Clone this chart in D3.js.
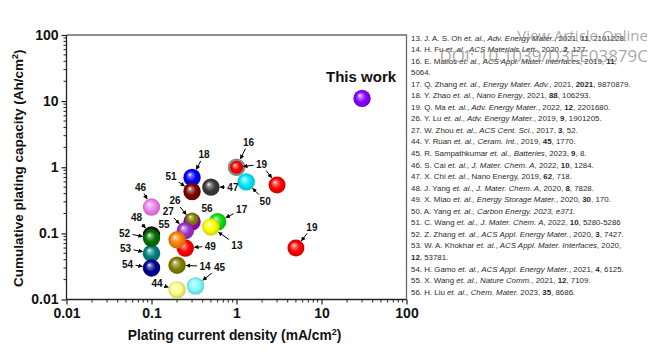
<!DOCTYPE html>
<html><head><meta charset="utf-8">
<script src="https://cdn.jsdelivr.net/npm/d3@7"></script>
<style>html,body{margin:0;padding:0;background:#fff;}svg{display:block;}</style>
</head><body>
<svg id="c" width="662" height="351"></svg>
<script>
// ---------- data ----------
const refLabels = ["16","19","50","19","18","51","47","46","26","56","17","13","27","49","55","48","53","52","54","14","44","45","19","This work"];
const currentDensity = [1, 1, 1.3, 3, 0.3, 0.3, 0.5, 0.1, 0.3, 0.3, 0.6, 0.5, 0.25, 0.25, 0.2, 0.1, 0.1, 0.1, 0.1, 0.2, 0.2, 0.33, 5, 30];
const capacity =       [1, 1, 0.6, 0.54, 0.7, 0.43, 0.5, 0.25, 0.15, 0.165, 0.15, 0.125, 0.11, 0.06, 0.08, 0.095, 0.05, 0.085, 0.03, 0.033, 0.014, 0.016, 0.06, 11];
const xTicks = [0.01, 0.1, 1, 10, 100];
const yTicks = [0.01, 0.1, 1, 10, 100];
const xTickLabels = ["0.01", "0.1", "1", "10", "100"];
const yTickLabels = ["0.01", "0.1", "1", "10", "100"];
const references = [
  [["13. J. A. S. Oh ",""],["et. al., Adv. Energy Mater.","i"],[", 2021, ",""],["11","b"],[", 2101228.",""]],
  [["14. H. Fu ",""],["et. al., ACS Materials Lett.","i"],[", 2020, ",""],["2","b"],[", 127.",""]],
  [["16. E. Matios ",""],["et. al., ACS Appl. Mater. Interfaces","i"],[", 2019, ",""],["11","b"],[",",""]],
  [["5064.",""]],
  [["17. Q. Zhang ",""],["et. al., Energy Mater. Adv.","i"],[", 2021, ",""],["2021","b"],[", 9870879.",""]],
  [["18. Y. Zhao ",""],["et. al., Nano Energy","i"],[", 2021, ",""],["88","b"],[", 106293.",""]],
  [["19. Q. Ma ",""],["et. al., Adv. Energy Mater.","i"],[", 2022, ",""],["12","b"],[", 2201680.",""]],
  [["26. Y. Lu ",""],["et. al., Adv. Energy Mater.","i"],[", 2019, ",""],["9","b"],[", 1901205.",""]],
  [["27. W. Zhou ",""],["et. al., ACS Cent. Sci.","i"],[", 2017, ",""],["3","b"],[", 52.",""]],
  [["44. Y. Ruan ",""],["et. al., Ceram. Int.","i"],[", 2019, ",""],["45","b"],[", 1770.",""]],
  [["45. R. Sampathkumar ",""],["et. al., Batteries","i"],[", 2023, ",""],["9","b"],[", 8.",""]],
  [["46. S. Cai ",""],["et. al., J. Mater. Chem. A","i"],[", 2022, ",""],["10","b"],[", 1284.",""]],
  [["47. X. Chi ",""],["et. al.","i"],[", Nano Energy, 2019, ",""],["62","b"],[", 718.",""]],
  [["48. J. Yang ",""],["et. al., J. Mater. Chem. A","i"],[", 2020, ",""],["8","b"],[", 7828.",""]],
  [["49. X. Miao ",""],["et. al., Energy Storage Mater.","i"],[", 2020, ",""],["30","b"],[", 170.",""]],
  [["50. A. Yang ",""],["et. al., Carbon Energy. 2023, e371.","i"]],
  [["51. C. Wang ",""],["et. al., J. Mater. Chem. A","i"],[", 2022, ",""],["10","b"],[", 5280-5286",""]],
  [["52. Z. Zhang ",""],["et. al., ACS Appl. Energy Mater.","i"],[", 2020, ",""],["3","b"],[", 7427.",""]],
  [["53. W. A. Khokhar ",""],["et. al., ACS Appl. Mater. Interfaces","i"],[", 2020,",""]],
  [["12","b"],[", 53781.",""]],
  [["54. H. Gamo ",""],["et. al., ACS Appl. Energy Mater.","i"],[", 2021, ",""],["4","b"],[", 6125.",""]],
  [["55. X. Wang ",""],["et. al., Nature Comm.","i"],[", 2021, ",""],["12","b"],[", 7109.",""]],
  [["56. H. Liu ",""],["et. al., Chem. Mater.","i"],[" 2023, ",""],["35","b"],[", 8686.",""]]
];

// ---------- styles / layout ----------
const pointStyle = [
  {c:"#8a7f78", r:8.7},{c:"#ff0000", r:6.5},{c:"#00e8f8", r:8.7},{c:"#ff0000", r:8.5},
  {c:"#0000ff", r:8.7},{c:"#800000", r:8.7},{c:"#3a3a3a", r:8.7},{c:"#f080f0", r:8.7},
  {c:"#a000a8", r:8.7},{c:"#808000", r:6.5},{c:"#10e010", r:8.7},{c:"#ffff00", r:8.7},
  {c:"#9a30c8", r:8.7},{c:"#ff0000", r:8.7},{c:"#ff8000", r:8.7},{c:"#0a1a0a", r:8.7},
  {c:"#008080", r:8.7},{c:"#007000", r:8.7},{c:"#000090", r:8.7},{c:"#808000", r:8.7},
  {c:"#ffff80", r:8.7},{c:"#80ffff", r:8.7},{c:"#ff0000", r:8.5},{c:"#8800ff", r:8.7}
];
// label offsets (px) relative to anchor point and arrow targets (point indices)
const annotations = [
  {p:0, dx:12, dy:-25, t:[0]},
  {p:1, dx:25, dy:-3, t:[1,3]},
  {p:2, dx:19, dy:19, t:[2]},
  {p:4, dx:12, dy:-23, t:[4]},
  {p:5, dx:-21, dy:-15, t:[5]},
  {p:6, dx:22, dy:0, t:[6]},
  {p:7, dx:-11, dy:-20, t:[7]},
  {p:8, dx:-17, dy:-21, t:[8]},
  {p:9, dx:15, dy:-11, t:[9]},
  {p:10, dx:24, dy:-12, t:[10]},
  {p:11, dx:26, dy:18, t:[11]},
  {p:12, dx:-17, dy:-19, t:[12]},
  {p:13, dx:25, dy:-2, t:[13]},
  {p:14, dx:-13, dy:-15, t:[14]},
  {p:15, dx:-15, dy:-17, t:[15]},
  {p:16, dx:-26, dy:-5, t:[16]},
  {p:17, dx:-27, dy:-5, t:[17]},
  {p:18, dx:-24, dy:-4, t:[18]},
  {p:19, dx:28, dy:1, t:[19]},
  {p:20, dx:-20, dy:-6, t:[20]},
  {p:21, dx:24, dy:-19, t:[21]},
  {p:22, dx:16, dy:-21, t:[22]}
];

const pL = 66.5, pR = 406.5, pT = 35, pB = 299.5;
const svg = d3.select("#c");
const x = d3.scaleLog().domain([0.01, 100]).range([pL, pR]);
const y = d3.scaleLog().domain([0.01, 100]).range([pB, pT]);
const axisFont = "Arial, 'Liberation Sans', sans-serif";

// minor ticks
const minor = [];
for (let e = -2; e < 2; e++) for (let k = 2; k <= 9; k++) minor.push(k * Math.pow(10, e));

// gradients
const defs = svg.append("defs");
pointStyle.forEach((s, i) => {
  const base = d3.color(s.c);
  const g = defs.append("radialGradient").attr("id", "g" + i)
    .attr("cx", "50%").attr("cy", "50%").attr("r", "50%").attr("fx", "36%").attr("fy", "32%");
  g.append("stop").attr("offset", "0%").attr("stop-color", "#ffffff");
  g.append("stop").attr("offset", "22%").attr("stop-color", d3.interpolateRgb("#ffffff", s.c)(0.55));
  g.append("stop").attr("offset", "60%").attr("stop-color", s.c);
  g.append("stop").attr("offset", "100%").attr("stop-color", base.darker(0.6).formatHex());
});
defs.append("marker").attr("id", "ah").attr("viewBox", "0 0 10 10").attr("refX", 9).attr("refY", 5)
  .attr("markerWidth", 4.5).attr("markerHeight", 4.5).attr("markerUnits", "userSpaceOnUse").attr("orient", "auto")
  .append("path").attr("d", "M0,0 L10,5 L0,10 z").attr("fill", "#000");

// frame (top/right)
svg.append("path").attr("d", `M${pL},${pT}H${pR}V${pB}`).attr("fill", "none")
  .attr("stroke", "#6a6a6a").attr("stroke-width", 1.3);

// x axis
const gx = svg.append("g").attr("transform", `translate(0,${pB})`);
gx.call(d3.axisBottom(x).tickValues(xTicks).tickFormat((d, i) => xTickLabels[i]).tickSize(5).tickPadding(4));
gx.selectAll(".minor").data(minor).enter().append("line").attr("class", "minor")
  .attr("x1", d => x(d)).attr("x2", d => x(d)).attr("y1", 0).attr("y2", 3).attr("stroke", "#222");
gx.select(".domain").attr("stroke", "#222").attr("stroke-width", 1.3).attr("d", `M${pL},0H${pR}`);
gx.selectAll(".tick line").attr("stroke", "#222").attr("stroke-width", 1.2);
gx.selectAll("text").attr("font-family", axisFont).attr("font-weight", "bold").attr("font-size", 14).attr("fill", "#111");

// y axis
const gy = svg.append("g").attr("transform", `translate(${pL},0)`);
gy.call(d3.axisLeft(y).tickValues(yTicks).tickFormat((d, i) => yTickLabels[i]).tickSize(5).tickPadding(3));
gy.selectAll(".minor").data(minor).enter().append("line").attr("class", "minor")
  .attr("y1", d => y(d)).attr("y2", d => y(d)).attr("x1", 0).attr("x2", -3).attr("stroke", "#222");
gy.select(".domain").attr("stroke", "#222").attr("stroke-width", 1.3).attr("d", `M0,${pT}V${pB}`);
gy.selectAll(".tick line").attr("stroke", "#222").attr("stroke-width", 1.2);
gy.selectAll("text").attr("font-family", axisFont).attr("font-weight", "bold").attr("font-size", 14).attr("fill", "#111");

// axis titles
const xt = svg.append("text").attr("x", (pL + pR) / 2 - 2).attr("y", 340).attr("text-anchor", "middle")
  .attr("font-family", axisFont).attr("font-weight", "bold").attr("font-size", 13.8).attr("fill", "#111");
xt.append("tspan").text("Plating current density (mA/cm");
xt.append("tspan").attr("dy", -5).attr("font-size", 9).text("2");
xt.append("tspan").attr("dy", 5).text(")");
const yt = svg.append("text").attr("transform", `translate(23,${(pT + pB) / 2 + 1}) rotate(-90)`).attr("text-anchor", "middle")
  .attr("font-family", axisFont).attr("font-weight", "bold").attr("font-size", 13.5).attr("fill", "#111");
yt.append("tspan").text("Cumulative plating capacity (Ah/cm");
yt.append("tspan").attr("dy", -5).attr("font-size", 9).text("2");
yt.append("tspan").attr("dy", 5).text(")");

// points
const order = d3.range(refLabels.length);
svg.append("g").selectAll("circle").data(order).enter().append("circle")
  .attr("cx", i => x(currentDensity[i])).attr("cy", i => y(capacity[i]))
  .attr("r", i => pointStyle[i].r).attr("fill", i => `url(#g${i})`)
  .attr("opacity", i => i === 0 ? 0.85 : 1);

// annotations
const ag = svg.append("g");
annotations.forEach(a => {
  const px = x(currentDensity[a.p]), py = y(capacity[a.p]);
  const lx = px + a.dx, ly = py + a.dy;
  ag.append("text").attr("x", lx).attr("y", ly + 3.6).attr("text-anchor", "middle")
    .attr("font-family", axisFont).attr("font-weight", "bold").attr("font-size", 10).attr("fill", "#111")
    .text(refLabels[a.p]);
  a.t.forEach(ti => {
    const tx = x(currentDensity[ti]), ty = y(capacity[ti]);
    const vx = tx - lx, vy = ty - ly, L = Math.hypot(vx, vy), ux = vx / L, uy = vy / L;
    const s = Math.min(Math.abs(ux) > 1e-6 ? 7 / Math.abs(ux) : 1e9, Math.abs(uy) > 1e-6 ? 5.5 / Math.abs(uy) : 1e9) + 1;
    const e = L - pointStyle[ti].r - 0.5;
    if (e - s < 3) return;
    ag.append("line").attr("x1", lx + ux * s).attr("y1", ly + uy * s).attr("x2", lx + ux * e).attr("y2", ly + uy * e)
      .attr("stroke", "#000").attr("stroke-width", 1).attr("marker-end", "url(#ah)");
  });
});
// "This work"
const tw = refLabels.length - 1;
svg.append("text").attr("x", x(currentDensity[tw]) - 1).attr("y", y(capacity[tw]) - 16).attr("text-anchor", "middle")
  .attr("font-family", axisFont).attr("font-weight", "bold").attr("font-size", 15).attr("fill", "#111")
  .text(refLabels[tw]);

// references
const rg = svg.append("g").attr("font-family", "'Liberation Sans', Arial, sans-serif").attr("font-size", 7.9).attr("fill", "#2a2a2a");
references.forEach((line, i) => {
  const t = rg.append("text").attr("x", 411).attr("y", 40.5 + i * 11.55);
  line.forEach(([s, st]) => {
    const sp = t.append("tspan").text(s);
    if (st === "i") sp.attr("font-style", "italic");
    if (st === "b") sp.attr("font-weight", "bold");
  });
});

// watermark
const wm = svg.append("g").attr("font-family", "'Open Sans', sans-serif").attr("fill", "#8a8a8a").attr("fill-opacity", 0.75).attr("text-anchor", "end");
wm.append("text").attr("x", 648).attr("y", 41).attr("font-size", 15).text("View Article Online");
wm.append("text").attr("x", 648).attr("y", 62).attr("font-size", 17).text("DOI: 10.1039/D3EE03879C");
</script>
</body></html>
